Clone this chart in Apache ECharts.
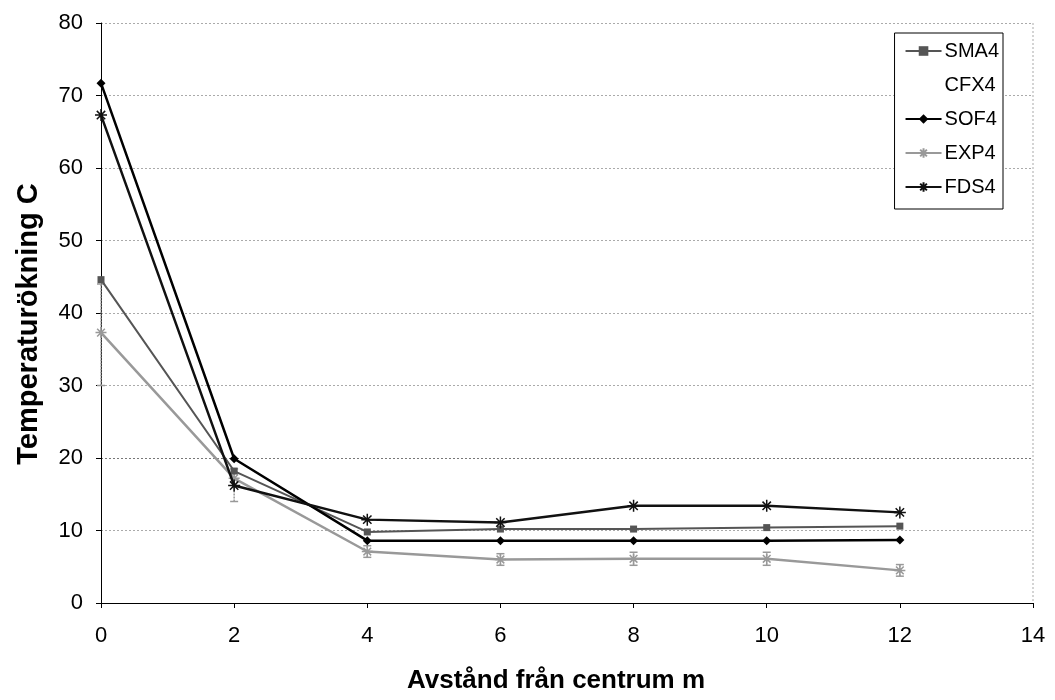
<!DOCTYPE html>
<html><head><meta charset="utf-8">
<script src="https://cdn.jsdelivr.net/npm/echarts@6/dist/echarts.min.js"></script>
<style>html,body{margin:0;padding:0;background:#fff}#c{width:1055px;height:700px}</style>
</head><body><div id="c"></div>
<script>
const xValues = [0, 2, 4, 6, 8, 10, 12];
const sma4 = [44.6, 18.2, 9.8, 10.2, 10.2, 10.4, 10.6];
const cfx4 = [];
const sof4 = [71.7, 19.9, 8.6, 8.6, 8.6, 8.6, 8.7];
const exp4 = [37.3, 17.2, 7.1, 6.0, 6.1, 6.1, 4.5];
const exp4Low = [30, 14, 6.3, 5.2, 5.2, 5.2, 3.7];
const exp4High = [44, 18.5, 7.9, 6.8, 7.0, 7.0, 5.3];
const fds4 = [67.3, 16.2, 11.5, 11.1, 13.4, 13.4, 12.5];
const xTicks = [0, 2, 4, 6, 8, 10, 12, 14];
const yTicks = [0, 10, 20, 30, 40, 50, 60, 70, 80];

const pair = a => xValues.map((x, i) => [x, a[i]]);
const asterisk = 'path://M0,5L10,5M5,0L5,10M1.5,1.5L8.5,8.5M8.5,1.5L1.5,8.5';
const font = 'Liberation Sans, Arial, sans-serif';

const chart = echarts.init(document.getElementById('c'), null, {renderer: 'canvas'});
chart.setOption({
  animation: false,
  backgroundColor: '#fff',
  grid: {left: 101, right: 22, top: 23, bottom: 97, show: false},
  legend: {
    orient: 'vertical', right: 52, top: 33,
    backgroundColor: '#fff', borderColor: '#000', borderWidth: 1,
    padding: [8, 4, 12, 10], itemGap: 14, itemWidth: 36, itemHeight: 12,
    textStyle: {fontFamily: font, fontSize: 20, color: '#000', padding: [0,0,0,-2]},
    data: ['SMA4', 'CFX4', 'SOF4', 'EXP4', 'FDS4']
  },
  xAxis: {
    type: 'value', min: 0, max: 14, interval: 2,
    name: 'Avstånd från centrum m', nameLocation: 'middle', nameGap: 65,
    nameTextStyle: {fontFamily: font, fontSize: 26, fontWeight: 'bold', color: '#000', padding: [0, 22, 0, 0]},
    axisLine: {lineStyle: {color: '#000', width: 1}},
    axisTick: {show: true, length: 5, lineStyle: {color: '#000'}},
    axisLabel: {fontFamily: font, fontSize: 22, color: '#000', margin: 22},
    splitLine: {show: false}
  },
  yAxis: {
    type: 'value', min: 0, max: 80, interval: 10,
    name: 'Temperaturökning C', nameLocation: 'middle', nameGap: 58,
    nameTextStyle: {fontFamily: font, fontSize: 29, fontWeight: 'bold', color: '#000', padding: [0, 22, 0, 0]},
    axisLine: {show: true, lineStyle: {color: '#000', width: 1}},
    axisTick: {show: true, length: 5, lineStyle: {color: '#000'}},
    axisLabel: {fontFamily: font, fontSize: 22, color: '#000', margin: 18},
    splitLine: {show: true, lineStyle: {color: ['#aaa','#aaa','#777','#aaa','#aaa','#aaa','#aaa','#aaa','#aaa'], type: [2, 2], width: 1}}
  },
  series: [
    {name: 'SMA4', type: 'line', data: pair(sma4), symbol: 'rect', symbolSize: 7,
     lineStyle: {color: '#555', width: 2}, itemStyle: {color: '#555'}, z: 3},
    {name: 'CFX4', type: 'line', data: cfx4, symbol: 'none',
     lineStyle: {color: 'rgba(255,255,255,0)', width: 0}, itemStyle: {color: 'rgba(255,255,255,0)'}},
    {name: 'SOF4', type: 'line', data: pair(sof4), symbol: 'diamond', symbolSize: 9,
     lineStyle: {color: '#000', width: 2.5}, itemStyle: {color: '#000'}, z: 4},
    {name: 'EXP4', type: 'line', data: pair(exp4), symbol: asterisk, symbolSize: 11,
     lineStyle: {color: '#999', width: 2.5}, itemStyle: {color: '#999', borderColor: '#999', borderWidth: 1.5}, z: 2},
    {name: 'EXP4err', type: 'custom', z: 1,
     data: xValues.map((x, i) => [x, exp4Low[i], exp4High[i]]),
     renderItem: (params, api) => {
       const lo = api.coord([api.value(0), api.value(1)]);
       const hi = api.coord([api.value(0), api.value(2)]);
       const w = 4;
       const st = {stroke: '#999', lineWidth: 1.5, lineDash: [2, 1]};
       return {type: 'group', children: [
         {type: 'line', shape: {x1: lo[0], y1: lo[1], x2: hi[0], y2: hi[1]}, style: st},
         {type: 'line', shape: {x1: lo[0]-w, y1: lo[1], x2: lo[0]+w, y2: lo[1]}, style: {stroke: '#999', lineWidth: 1.5}},
         {type: 'line', shape: {x1: hi[0]-w, y1: hi[1], x2: hi[0]+w, y2: hi[1]}, style: {stroke: '#999', lineWidth: 1.5}}
       ]};
     }},
    {name: 'FDS4', type: 'line', data: pair(fds4), symbol: asterisk, symbolSize: 12,
     lineStyle: {color: '#111', width: 2.5}, itemStyle: {color: '#111', borderColor: '#111', borderWidth: 1.5}, z: 5}
  ]
});
// dotted right border of plot area, placed from the axis scale
const topRight = chart.convertToPixel({xAxisIndex: 0, yAxisIndex: 0}, [14, 80]);
const botRight = chart.convertToPixel({xAxisIndex: 0, yAxisIndex: 0}, [14, 0]);
chart.setOption({graphic: [{type: 'line', shape: {x1: topRight[0], y1: topRight[1], x2: botRight[0], y2: botRight[1]}, style: {stroke: '#aaa', lineDash: [2, 2], lineWidth: 1}}]});
</script></body></html>
